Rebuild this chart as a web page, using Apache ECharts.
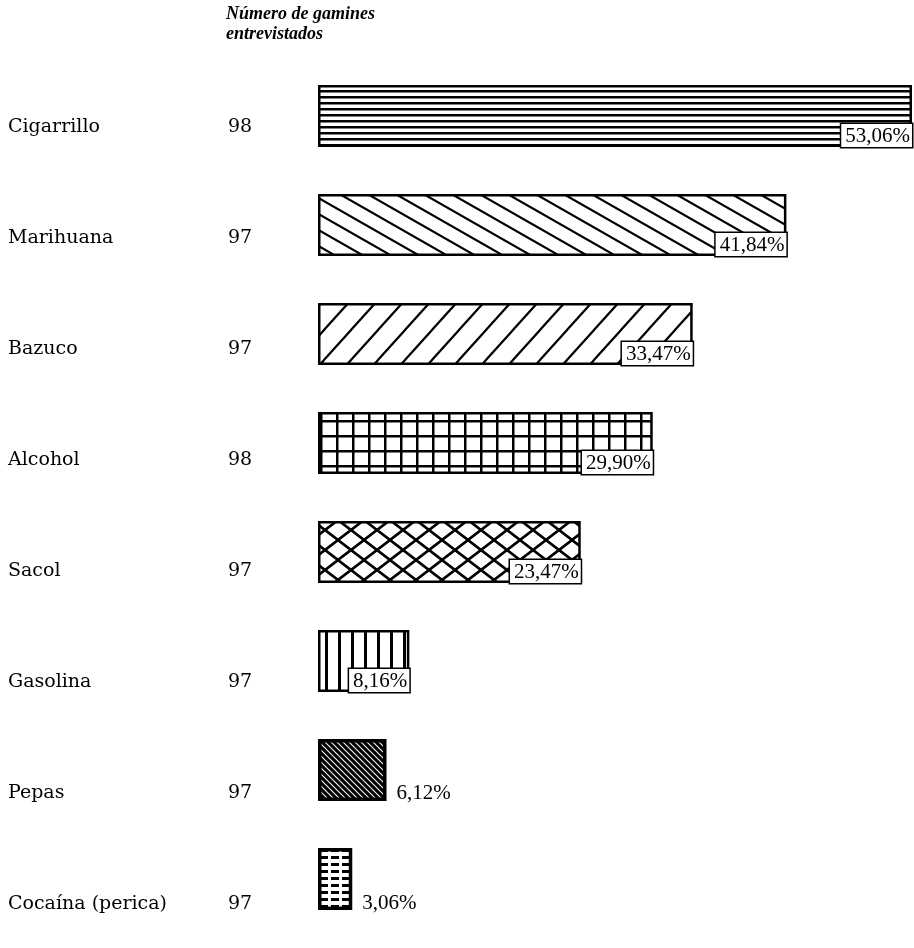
<!DOCTYPE html>
<html lang="es">
<head>
<meta charset="UTF-8">
<title>Consumo de sustancias en gamines</title>
<script src="https://cdn.jsdelivr.net/npm/echarts@6/dist/echarts.min.js"></script>
<style>
  html, body { margin: 0; padding: 0; background: #fff; }
  #main { width: 914px; height: 948px; }
</style>
</head>
<body>
<div id="main"></div>
<script>
var categories = ['Cigarrillo', 'Marihuana', 'Bazuco', 'Alcohol', 'Sacol', 'Gasolina', 'Pepas', 'Cocaína (perica)'];
var entrevistados = [98, 97, 97, 98, 97, 97, 97, 97];
var porcentajes = [53.06, 41.84, 33.47, 29.90, 23.47, 8.16, 6.12, 3.06];

// estilo de cada barra (trama) y etiquetas fuera de la barra
var tramas = ['horizontal', 'diagonalSuave', 'diagonalSube', 'cuadricula', 'rombos', 'vertical', 'diagonalDensa', 'guiones'];
var etiquetaFuera = { 'Pepas': '88%', 'Cocaína (perica)': '90%' };

function trama(tipo) {
    var c = document.createElement('canvas');
    var ctx;
    function tile(w, h) {
        c.width = w; c.height = h;
        ctx = c.getContext('2d');
        ctx.fillStyle = '#fff';
        ctx.fillRect(0, 0, w, h);
        ctx.fillStyle = '#000';
        ctx.strokeStyle = '#000';
    }
    function lineas(p, h, sube, ancho) {
        ctx.lineWidth = ancho;
        ctx.beginPath();
        for (var k = -2; k <= 2; k++) {
            if (sube) { ctx.moveTo(k * p - p, 2 * h); ctx.lineTo(k * p + 2 * p, -h); }
            else { ctx.moveTo(k * p - p, -h); ctx.lineTo(k * p + 2 * p, 2 * h); }
        }
        ctx.stroke();
    }
    if (tipo === 'horizontal') { tile(8, 6); ctx.fillRect(0, 0, 8, 2.5); }
    if (tipo === 'diagonalSuave') { tile(28, 16); lineas(28, 16, false, 2.2); }
    if (tipo === 'diagonalSube') { tile(27, 30); lineas(27, 30, true, 2.2); }
    if (tipo === 'cuadricula') { tile(16, 15); ctx.fillRect(0, 0, 16, 2.5); ctx.fillRect(0, 0, 2.5, 15); }
    if (tipo === 'rombos') { tile(26, 20); lineas(26, 20, false, 2.6); lineas(26, 20, true, 2.6); }
    if (tipo === 'vertical') { tile(13, 4); ctx.fillRect(0, 0, 3, 4); }
    if (tipo === 'diagonalDensa') { tile(6, 6); lineas(6, 6, false, 3.2); }
    if (tipo === 'guiones') { tile(11, 7); ctx.fillRect(1, 2, 8, 3); }
    return { image: c, repeat: 'repeat' };
}

function pct(v) {
    return v.toFixed(2).replace('.', ',') + '%';
}

var datos = porcentajes.map(function (v, i) {
    var fuera = etiquetaFuera[categories[i]];
    var label = fuera ? {
        show: true,
        position: ['100%', fuera],
        offset: [10, 0],
        verticalAlign: 'middle'
    } : {
        show: true,
        position: 'insideBottomRight',
        distance: 0,
        backgroundColor: '#fff',
        borderColor: '#000',
        borderWidth: 1.5,
        padding: [2, 2, 0, 4]
    };
    return {
        value: v,
        itemStyle: {
            color: trama(tramas[i]),
            borderColor: '#000',
            borderWidth: fuera ? 3.5 : 2.5
        },
        label: label
    };
});

var chart = echarts.init(document.getElementById('main'));
chart.setOption({
    animation: false,
    backgroundColor: '#fff',
    title: {
        text: 'Número de gamines\nentrevistados',
        left: 221,
        top: -1,
        textStyle: {
            fontFamily: 'Liberation Serif',
            fontStyle: 'italic',
            fontWeight: 'bold',
            fontSize: 18,
            lineHeight: 20,
            color: '#000'
        }
    },
    grid: [
        { left: 318, right: 2, top: 61.5, height: 872 },
        { left: 318, right: 2, top: 127, height: 777 }
    ],
    xAxis: [
        { gridIndex: 0, type: 'value', min: 0, max: 53.06, show: false },
        { gridIndex: 1, type: 'value', min: 0, max: 1, show: false }
    ],
    yAxis: [
        { gridIndex: 0, type: 'category', data: categories, inverse: true, show: false },
        {
            gridIndex: 1,
            type: 'category',
            data: categories,
            inverse: true,
            boundaryGap: false,
            axisLine: { show: false },
            axisTick: { show: false },
            splitLine: { show: false },
            axisLabel: {
                align: 'left',
                margin: 310,
                formatter: function (name, i) {
                    return '{n|' + name + '}{c|' + entrevistados[i] + '}';
                },
                rich: {
                    n: { width: 220, fontFamily: 'DejaVu Serif', fontSize: 19, color: '#000' },
                    c: { fontFamily: 'DejaVu Serif', fontSize: 19, color: '#000' }
                }
            }
        }
    ],
    series: [{
        type: 'bar',
        xAxisIndex: 0,
        yAxisIndex: 0,
        barWidth: 62,
        label: {
            fontFamily: 'Liberation Serif',
            fontSize: 21,
            color: '#000',
            formatter: function (p) { return pct(p.value); }
        },
        data: datos
    }]
});
</script>
</body>
</html>
